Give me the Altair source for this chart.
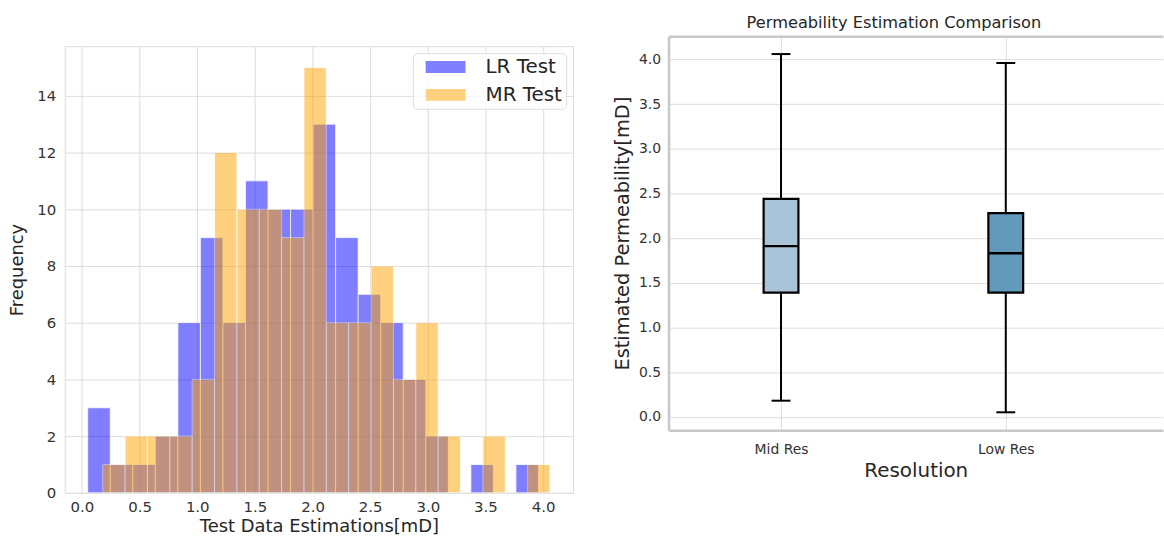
import altair as alt
import pandas as pd

# ---------------- data: histogram ----------------
series_names = ["LR Test", "MR Test"]
series_colors = ["blue", "orange"]
lr_range = [0.05, 3.96]
mr_range = [0.18, 4.06]
n_bins = 20
lr_counts = [3, 1, 1, 2, 6, 9, 6, 11, 10, 10, 13, 9, 7, 6, 4, 2, 0, 1, 0, 1]
mr_counts = [1, 2, 2, 2, 4, 12, 10, 10, 9, 15, 6, 6, 8, 4, 6, 2, 0, 2, 0, 1]
hist_x_ticks = [0.0, 0.5, 1.0, 1.5, 2.0, 2.5, 3.0, 3.5, 4.0]
hist_y_ticks = [0, 2, 4, 6, 8, 10, 12, 14]

# ---------------- data: box plot ----------------
res_labels = ["Mid Res", "Low Res"]
whisker_low = [0.18, 0.05]
q1 = [1.39, 1.39]
median = [1.91, 1.83]
q3 = [2.44, 2.28]
whisker_high = [4.06, 3.96]
box_colors = ["#a9c3d9", "#6399bb"]
box_y_ticks = [0.0, 0.5, 1.0, 1.5, 2.0, 2.5, 3.0, 3.5, 4.0]

FONT = "DejaVu Sans"
GRID = "#dddddd"
FRAME = "#c8c8c8"


def bins_table(name, rng, counts):
    w = (rng[1] - rng[0]) / n_bins
    rows = []
    for i, c in enumerate(counts):
        rows.append({"series": name, "start": rng[0] + i * w,
                     "end": rng[0] + (i + 1) * w, "count": c})
    return rows


hist_df = pd.DataFrame(bins_table(series_names[0], lr_range, lr_counts)
                       + bins_table(series_names[1], mr_range, mr_counts))
hist_df = hist_df[hist_df["count"] > 0]

hscale = alt.Scale(domain=[-0.15, 4.26], nice=False, zero=False)
hx = alt.X("start:Q", scale=hscale,
           axis=alt.Axis(values=hist_x_ticks, format=".1f",
                         title="Test Data Estimations[mD]",
                         labelFontSize=15, labelPadding=7, labelColor="#333333",
                         titleFontSize=18, titleFontWeight="normal", titlePadding=3,
                         titleColor="#262626", ticks=False, domain=False,
                         grid=True, gridColor=GRID, labelFont=FONT, titleFont=FONT))
hy = alt.Y("count:Q",
           scale=alt.Scale(domain=[0, 15.75], nice=False),
           axis=alt.Axis(values=hist_y_ticks, title="Frequency",
                         labelFontSize=15, labelPadding=9, labelColor="#333333",
                         titleFontSize=18, titleFontWeight="normal", titlePadding=10,
                         titleColor="#262626", ticks=False, domain=False,
                         grid=True, gridColor=GRID, labelFont=FONT, titleFont=FONT))
hcolor = alt.Color("series:N",
                   scale=alt.Scale(domain=series_names, range=series_colors),
                   legend=alt.Legend(title=None, orient="none", legendX=350, legendY=17,
                                     labelFontSize=20, labelFont=FONT, labelColor="#262626",
                                     labelExpr="datum.label + '   '",
                                     symbolType="M-0.175,-0.9L5.825,-0.9L5.825,0.9L-0.175,0.9Z",
                                     symbolSize=178, symbolStrokeWidth=0,
                                     symbolOpacity=0.5, labelOffset=49,
                                     rowPadding=8, padding=4,
                                     fillColor="rgba(255,255,255,0.8)",
                                     strokeColor="#dddddd", cornerRadius=4))

hmark = dict(opacity=0.5, stroke="white", strokeWidth=0.8)
hbase = alt.Chart(hist_df).mark_bar(**hmark).encode(
    x=hx, x2="end:Q", y=hy, y2=alt.datum(0), color=hcolor)

left = alt.layer(
    hbase.transform_filter(alt.datum.series == series_names[0]),
    hbase.transform_filter(alt.datum.series == series_names[1]),
).properties(
    width=511, height=449,
    view=alt.ViewBackground(stroke=GRID, strokeWidth=1),
)

# invisible strip above the histogram so that its frame sits a little lower
spacer = alt.Chart(hist_df).mark_point(size=0, opacity=0).encode(
    x=alt.X("start:Q", axis=None), y=alt.Y("count:Q", axis=None)
).properties(width=511, height=8, view=alt.ViewBackground(stroke="transparent"))

left_col = alt.vconcat(spacer, left, spacing=0)

# ---------------- box plot ----------------
box_df = pd.DataFrame({"res": res_labels, "low": whisker_low, "q1": q1,
                       "median": median, "q3": q3, "high": whisker_high})

bx = alt.X("res:N", sort=res_labels,
           scale=alt.Scale(type="point", padding=0.6, align=0.417),
           axis=alt.Axis(title="Resolution", labelAngle=0, labelFontSize=14,
                         labelPadding=12, labelColor="#333333", titleFontSize=20,
                         titleFontWeight="normal", titlePadding=5, titleColor="#262626",
                         ticks=False, domain=True, domainColor=FRAME, domainWidth=2.5,
                         grid=True, gridColor=GRID, labelFont=FONT, titleFont=FONT))
yscale = alt.Scale(domain=[-0.15, 4.26], nice=False, zero=False)
yaxis = alt.Axis(values=box_y_ticks + [4.26], format=".1f",
                 labelExpr="datum.value > 4.1 ? '' : datum.label",
                 title="Estimated Permeability[mD]", labelFontSize=14, labelPadding=8,
                 labelColor="#333333", titleFontSize=19.5, titleFontWeight="normal",
                 titlePadding=6, titleColor="#262626", ticks=False, domain=True,
                 domainColor=FRAME, domainWidth=2.5,
                 gridColor=alt.condition("datum.value > 4.1", alt.value(FRAME), alt.value(GRID)),
                 gridWidth=alt.condition("datum.value > 4.1", alt.value(2.5), alt.value(1)),
                 labelFont=FONT, titleFont=FONT)


def by(field):
    return alt.Y(field, scale=yscale, axis=yaxis)


bbase = alt.Chart(box_df)
whisk = bbase.mark_rule(color="black", strokeWidth=2).encode(x=bx, y=by("low:Q"), y2="high:Q")
box = bbase.mark_bar(size=35, stroke="black", strokeWidth=2.2, opacity=1).encode(
    x=bx, y=by("q1:Q"), y2="q3:Q",
    color=alt.Color("res:N", scale=alt.Scale(domain=res_labels, range=box_colors), legend=None))
med = bbase.mark_tick(color="black", size=35, thickness=2.4, opacity=1).encode(x=bx, y=by("median:Q"))
cap_lo = bbase.mark_tick(color="black", size=19, thickness=2, opacity=1).encode(x=bx, y=by("low:Q"))
cap_hi = bbase.mark_tick(color="black", size=19, thickness=2, opacity=1).encode(x=bx, y=by("high:Q"))

right = alt.layer(whisk, box, med, cap_lo, cap_hi).properties(
    width=497, height=396,
    title=alt.TitleParams("Permeability Estimation Comparison", fontSize=16.3, offset=5,
                          font=FONT, fontWeight="normal", color="#262626", dx=-22),
    view=alt.ViewBackground(stroke="transparent"),
)

chart = alt.hconcat(left_col, right, spacing=38).properties(
    padding={"left": 8, "top": 13, "right": 0, "bottom": 0}
).resolve_scale(color="independent")

chart.save("out.html", embed_options={"renderer": "svg", "actions": False})
